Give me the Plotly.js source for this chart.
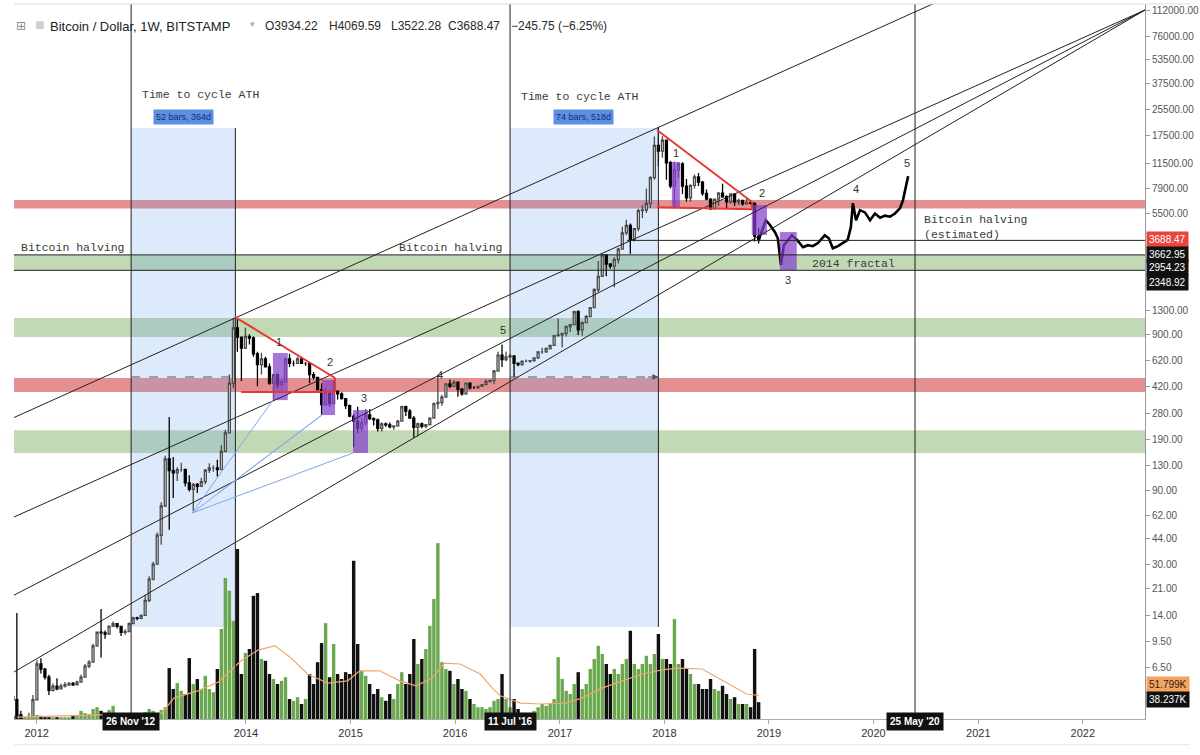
<!DOCTYPE html>
<html><head><meta charset="utf-8">
<script src="https://cdn.plot.ly/plotly-3.0.1.min.js"></script>
<style>body{margin:0;background:#fff}#chart{width:1200px;height:755px}</style>
</head><body><div id="chart"></div>
<script>
// ================= DATA =================
const barStart = '2011-10-10';      // first two-week bar
const barStepDays = 14;
const firstOpen = 4.2;
const closes = [
4.0,3.2,2.6,2.9,3.0,4.0,6.8,6.3,5.6,4.6,
4.9,4.7,4.9,5.0,5.1,5.0,5.2,5.6,6.6,7.0,
8.9,10.9,10.8,10.6,11.9,12.4,11.9,10.9,11.0,12.4,
13.5,13.4,14.0,17.5,24,30,46,71,143,120,
116,122,122,100,91,98,95,102,121,125,
125,122,160,210,440,1000,870,740,880,860,
680,580,630,560,440,500,430,450,630,590,
590,630,590,590,500,480,400,320,385,325,
390,375,350,315,270,250,225,245,275,260,
255,225,240,237,230,233,250,310,290,262,
228,240,232,238,262,325,330,357,435,420,
447,402,375,440,410,410,420,430,451,457,
527,667,625,650,660,590,580,610,610,615,
640,700,700,735,770,890,900,920,1020,1050,
1270,970,1080,1180,1350,1760,2150,2950,2580,2500,
2750,3220,4100,4580,3700,4360,5700,5750,6350,9300,
15000,13800,16200,11600,8200,10400,11400,8200,6900,8300,
9400,8700,7350,6750,5850,6750,7400,7000,6500,7300,
6500,6630,6300,6400,6350,3900,3688.47];
const highs = [
4.4,14.5,3.4,3.1,3.3,4.3,7.2,7.4,6.4,5.8,
5.1,5.5,5.1,5.2,5.2,5.2,5.3,5.8,6.8,7.2,
9.2,11.0,15.4,11.2,12.1,12.8,12.4,11.9,11.4,12.6,
13.7,13.7,14.2,19,25,31,48,75,150,266,
147,126,135,124,112,100,100,108,123,134,
130,141,175,220,500,1163,1150,880,1000,910,
880,700,690,650,590,500,510,455,640,680,
615,650,630,600,590,520,480,440,410,390,
460,390,385,350,320,280,310,265,300,300,
265,260,245,245,245,235,255,315,315,300,
270,245,245,240,265,330,500,370,440,465,
460,450,410,445,445,420,425,432,465,465,
535,700,780,705,680,660,600,615,625,620,
645,710,745,750,775,900,1150,920,1030,1060,
1290,1300,1100,1210,1360,1800,2700,3000,2980,2600,
2850,3280,4480,4980,4700,4400,5850,6180,7900,9500,
17100,19666,17200,16300,11900,11800,11700,11700,9100,8400,
9750,9950,8850,7800,6850,6800,7500,8500,7150,7350,
7400,6800,6700,6900,6580,6450,4400];
const lows = [
3.4,2.9,2.3,2.0,2.8,3.0,4.0,5.9,5.4,4.3,
4.5,4.6,4.7,4.8,4.9,4.9,5.0,5.2,5.6,6.4,
7.0,8.8,7.5,9.9,10.6,11.8,11.5,10.3,10.5,10.9,
12.3,13.0,13.2,14,17,23.5,30,40,71,50,
80,103,118,95,88,66,86,94,98,116,
118,110,121,158,210,410,700,455,730,780,
650,420,500,555,430,340,410,420,445,560,
565,590,585,570,440,465,395,275,315,310,
320,345,345,300,265,170,210,215,235,255,
235,215,215,230,225,220,230,250,270,260,
195,200,225,225,235,260,300,315,355,410,
420,360,365,370,400,405,405,415,430,445,
435,525,560,610,640,480,565,570,600,595,
605,630,680,690,725,770,880,750,880,940,
1040,900,890,1070,1170,1340,1700,2150,2150,2400,
1830,2600,3220,3950,3000,3600,4200,5100,5500,5900,
9000,11000,12500,9000,7900,6000,9300,7300,6500,6500,
7900,8200,7100,6650,5750,5800,6100,6900,5900,6300,
6100,6200,6150,6300,6250,3600,3500];
// weekly volume (thousand BTC) read for each bar
const volumesK = [
7,9,7,4,4,7, 9,7,4,4,4, 4,4,4,4,7,9, 18,13,11,22, 26,18,13,20,29,
11,9,9,11,13,11,11, 15,22,18,13,20,26, 112,
66,79,62,55,134,77,88,66,95,66,59,
110,198,310,282,216,374,
99,145,154,271,277,132,128,
99,88,77,84,92,44,40,48,33,44,
99,77,125,167,211,92,165,99,88,103,99,
348,165,106,95,77,55,66,48,40,55,44,
77,103,77,99,176,121,132,154,205,264,387,
125,110,106,77,88,66,62,44,33,26,26,22,26,40,44,
99,44,26,44,22,13,11,13,18,26,33,29,33,44,
136,88,62,55,77,103,66,77,110,132,161,143,121,99,110,
99,121,132,194,121,110,121,139,121,143,187,132,132,121,220,
121,132,110,99,77,77,66,66,88,66,62,73,55,44,48,33,33,33,26,154,37];
// volume moving average (thousand BTC)
const maDates = ['2011-10-25','2012-07-31','2012-12-19','2013-03-13','2013-04-24','2013-07-17','2013-09-25','2013-12-15','2014-02-13','2014-04-13','2014-06-08','2014-08-04','2014-10-13','2014-12-22','2015-02-02','2015-04-13','2015-06-22','2015-08-18','2015-10-13','2015-11-24','2016-01-19','2016-03-29','2016-05-10','2016-06-07','2016-08-16','2016-10-29','2017-01-21','2017-03-19','2017-05-28','2017-08-06','2017-10-15','2017-12-24','2018-02-18','2018-05-13','2018-07-23','2018-10-15','2018-11-26'];
const maValuesK = [4,9,9,13,46,62,81,128,152,161,134,99,79,84,106,106,84,73,90,123,121,99,68,51,35,33,35,46,68,84,99,108,112,110,84,55,51.8];
// projected "2014 fractal" path
const fractalDates = ['2018-11-26','2018-12-21','2019-01-04','2019-01-22','2019-02-01','2019-02-12','2019-02-22','2019-03-08','2019-03-22','2019-04-09','2019-04-30','2019-05-17','2019-06-03','2019-06-21','2019-07-15','2019-07-29','2019-08-12','2019-08-30','2019-09-16','2019-10-03','2019-10-14','2019-10-21','2019-11-01','2019-11-15','2019-12-02','2019-12-20','2020-01-06','2020-01-24','2020-02-10','2020-02-28','2020-03-16','2020-04-03','2020-04-13','2020-04-24','2020-05-01'];
const fractalPrices = [3688,4940,4620,4140,3780,2535,3410,3690,3950,3690,3310,3410,3360,3520,3950,3780,3260,3360,3520,3690,4460,6370,4940,5740,5550,4940,5460,5130,5290,5210,5460,5920,6660,8320,9510];

const yTickVals = [112000,76000,53500,37500,25500,17500,11500,7900,5500,1300,900,620,420,280,190,130,90,62,44,30,21,14,9.5,6.5];
const xTickDates = ['2012-01-01','2014-01-01','2015-01-01','2016-01-01','2017-01-01','2018-01-01','2019-01-01','2020-01-01','2021-01-01','2022-01-01'];
const xTickLabels = ['2012','2014','2015','2016','2017','2018','2019','2020','2021','2022'];

// drawing-tool levels / objects (data coordinates)
const redBands = [[5878,6668],[386,475]];
const greenBands = [[2348.92,2954.23],[872,1157],[156,219]];
const cycleZones = [['2012-11-26','2013-11-25','52 bars, 364d'],['2016-07-11','2017-12-11','74 bars, 518d']];
const zoneLow = 11.78, zoneHigh = 19420, axisLow = 3.006;
const halvingDates = ['2012-11-26','2016-07-11','2020-05-25'];
const halvingLabels = ["26 Nov '12","11 Jul '16","25 May '20"];
const trendLines = [
  [['2011-10-14',264],['2022-08-06',506700]],
  [['2011-10-14',60.3],['2022-08-06',112000]],
  [['2011-10-14',18.9],['2022-08-06',112000]],
  [['2011-10-14',6.04],['2022-08-06',112000]]
];
const redLines = [
  [['2013-11-24',1174],['2014-11-08',475]],
  [['2013-12-15',386],['2014-11-08',386]],
  [['2014-11-08',475],['2014-11-08',386]],
  [['2017-12-06',18850],['2018-11-03',6474]],
  [['2017-12-06',6000],['2018-11-03',5810]],
  [['2018-11-03',6474],['2018-11-03',5810]]
];
const purpleBoxes = [
  ['2014-04-05','2014-05-27',342,688],
  ['2014-09-23','2014-11-08',274,461],
  ['2015-01-10','2015-03-03',156,295],
  ['2018-01-27','2018-02-24',6012,11720],
  ['2018-11-02','2018-12-25',3967,6190],
  ['2019-02-08','2019-04-08',2359,4146]
];
const fanLines = [
  [['2013-06-27',64],['2014-04-05',342]],
  [['2013-06-27',64],['2014-09-23',274]],
  [['2013-06-27',64],['2015-01-10',156]],
  [['2013-09-26',86],['2014-09-23',274]]
];
const dashedLevel = 482;
const levelLines = [[3662.95,'2017-08-23'],[2954.23,'2011-10-14'],[2348.92,'2011-10-14']];
const waveLabels = [
  ['1','2014-04-26',810],['2','2014-10-21',602],['3','2015-02-16',353],['4','2015-11-09',496],['5','2016-06-16',968],
  ['1','2018-02-10',13400],['2','2018-12-07',7400],['3','2019-03-08',2033],['4','2019-11-01',7850],['5','2020-04-27',11550]
];
const lastPrice = 3688.47;
const axisPriceLabels = [3662.95,2954.23,2348.92];
const volMA_label = '51.799K', lastVol_label = '38.237K';

// ================= BUILD =================
const LG = Math.log10;
function addDays(s,n){const d=new Date(s+'T00:00:00Z');d.setUTCDate(d.getUTCDate()+n);return d.toISOString().slice(0,10);}
const dates = closes.map((_,i)=>addDays(barStart,i*barStepDays));
const opens = closes.map((c,i)=> i===0?firstOpen:closes[i-1]);
const volColors = closes.map((c,i)=> c>=opens[i] ? '#6aa84f' : '#111111');

const traces = [
 {type:'bar', x:dates, y:volumesK, yaxis:'y2', marker:{color:volColors, line:{width:0}}, hoverinfo:'skip'},
 {type:'scatter', mode:'lines', x:maDates, y:maValuesK, yaxis:'y2', line:{color:'#f2a66b', width:1.2}, hoverinfo:'skip'},
 {type:'candlestick', x:dates, open:opens, high:highs, low:lows, close:closes,
  increasing:{line:{color:'#4a4a4a', width:1.3}, fillcolor:'#f4f4f4'},
  decreasing:{line:{color:'#000000', width:1.3}, fillcolor:'#000000'},
  whiskerwidth:0, hoverinfo:'skip'},
 {type:'scatter', mode:'lines', x:fractalDates, y:fractalPrices, line:{color:'#000', width:2.6}, hoverinfo:'skip'}
];

// shapes on the log axis take raw data values
const shapes = [];
cycleZones.forEach(z=>shapes.push({type:'rect', xref:'x', yref:'y', x0:z[0], x1:z[1], y0:zoneLow, y1:zoneHigh, fillcolor:'rgba(100,160,235,0.22)', line:{width:0}, layer:'below'}));
redBands.forEach(b=>shapes.push({type:'rect', xref:'paper', yref:'y', x0:0, x1:1, y0:b[0], y1:b[1], fillcolor:'rgba(210,70,70,0.6)', line:{width:0}, layer:'below'}));
greenBands.forEach(b=>shapes.push({type:'rect', xref:'paper', yref:'y', x0:0, x1:1, y0:b[0], y1:b[1], fillcolor:'rgba(120,170,90,0.45)', line:{width:0}, layer:'below'}));
purpleBoxes.forEach(b=>shapes.push({type:'rect', xref:'x', yref:'y', x0:b[0], x1:b[1], y0:b[2], y1:b[3], fillcolor:'rgba(135,65,205,0.72)', line:{width:0}, layer:'above'}));
levelLines.forEach(l=>shapes.push({type:'line', xref:'x', yref:'y', x0:l[1], x1:'2022-08-06', y0:l[0], y1:l[0], line:{color:'#222', width:1}}));
halvingDates.forEach(d=>shapes.push({type:'line', xref:'x', yref:'paper', x0:d, x1:d, y0:0, y1:1, line:{color:'#222', width:1}}));
shapes.push({type:'line', xref:'x', yref:'y', x0:cycleZones[0][1], x1:cycleZones[0][1], y0:axisLow, y1:zoneHigh, line:{color:'#222', width:1}});
shapes.push({type:'line', xref:'x', yref:'y', x0:cycleZones[1][1], x1:cycleZones[1][1], y0:zoneLow, y1:zoneHigh, line:{color:'#222', width:1}});
trendLines.forEach(t=>shapes.push({type:'line', xref:'x', yref:'y', x0:t[0][0], y0:t[0][1], x1:t[1][0], y1:t[1][1], line:{color:'#222', width:1}}));
fanLines.forEach(t=>shapes.push({type:'line', xref:'x', yref:'y', x0:t[0][0], y0:t[0][1], x1:t[1][0], y1:t[1][1], line:{color:'#7fa8e6', width:1}}));
redLines.forEach(t=>shapes.push({type:'line', xref:'x', yref:'y', x0:t[0][0], y0:t[0][1], x1:t[1][0], y1:t[1][1], line:{color:'#e53935', width:2}}));
cycleZones.forEach(z=>shapes.push({type:'line', xref:'x', yref:'y', x0:z[0], x1:z[1], y0:dashedLevel, y1:dashedLevel, line:{color:'#555', width:1.2, dash:'dash'}}));
shapes.push({type:'line', xref:'paper', yref:'paper', x0:0, x1:1.04, y0:1, y1:1, line:{color:'#ddd', width:1}});
shapes.push({type:'line', xref:'paper', yref:'paper', x0:0, x1:1.04, y0:-0.036, y1:-0.036, line:{color:'#e6e6e6', width:1}});

const px = v=>(v-14)/1131, py = v=>(719-v)/715;
const mono = {family:'Liberation Mono, Courier New, monospace', size:11.5, color:'#3a3a3a'};
const ann = [];
ann.push({xref:'paper', yref:'paper', x:px(14), y:py(17), xanchor:'left', showarrow:false, text:'⊞', font:{family:'DejaVu Sans', size:12, color:'#8a8a8a'}});
ann.push({xref:'paper', yref:'paper', x:px(33), y:py(17), xanchor:'left', showarrow:false, text:'■', font:{family:'DejaVu Sans', size:10, color:'#d0d0d0'}});
ann.push({xref:'paper', yref:'paper', x:px(48), y:py(17), xanchor:'left', showarrow:false, text:'Bitcoin / Dollar, 1W, BITSTAMP', font:{family:'Liberation Sans, Arial', size:13, color:'#222'}});
ann.push({xref:'paper', yref:'paper', x:px(248), y:py(17), xanchor:'left', showarrow:false, text:'▾', font:{family:'DejaVu Sans', size:9, color:'#aaa'}});
const ohlcText = ['O3934.22','H4069.59','L3522.28','C3688.47','−245.75 (−6.25%)'];
const ohlcX = [263,327,389,446,509];
ohlcText.forEach((t,i)=>ann.push({xref:'paper', yref:'paper', x:px(ohlcX[i]), y:py(17), xanchor:'left', showarrow:false, text:t, font:{family:'Liberation Sans, Arial', size:12, color:'#2a2a2a'}}));
// annotations on the log axis take log10 values
const ttcX = ['2012-12-27','2016-08-11'], ttcY=[32170,31230];
const midX = ['2013-05-27','2017-03-26'];
cycleZones.forEach((z,i)=>{
  ann.push({xref:'x', yref:'y', x:ttcX[i], y:LG(ttcY[i]), xanchor:'left', showarrow:false, text:'Time to cycle ATH', font:mono});
  ann.push({xref:'x', yref:'y', x:midX[i], y:LG(22860), showarrow:false, text:z[2], bgcolor:'#5e8fe6', borderpad:2, font:{family:'Liberation Sans, Arial', size:9, color:'#14306a'}});
});
ann.push({xref:'x', yref:'y', x:'2012-11-12', y:LG(3319), xanchor:'right', showarrow:false, text:'Bitcoin halving', font:mono});
ann.push({xref:'x', yref:'y', x:'2016-06-23', y:LG(3319), xanchor:'right', showarrow:false, text:'Bitcoin halving', font:mono});
ann.push({xref:'x', yref:'y', x:'2020-06-18', y:LG(4498), xanchor:'left', align:'left', showarrow:false, text:'Bitcoin halving<br>(estimated)', font:mono});
ann.push({xref:'x', yref:'y', x:'2019-10-23', y:LG(2617), showarrow:false, text:'2014 fractal', font:mono});
waveLabels.forEach(w=>ann.push({xref:'x', yref:'y', x:w[1], y:LG(w[2]), showarrow:false, text:w[0], font:{family:'Liberation Sans, Arial', size:11, color:'#333'}}));
ann.push({xref:'x', yref:'y', x:cycleZones[1][1], y:LG(dashedLevel), ax:-12, ay:0, showarrow:true, arrowhead:2, arrowsize:1, arrowwidth:1.2, arrowcolor:'#555', text:''});
ann.push({xref:'paper', yref:'y', x:1, y:LG(lastPrice), xanchor:'left', xshift:1, showarrow:false, text:lastPrice.toFixed(2), bgcolor:'#e8453c', borderpad:2, font:{family:'Liberation Sans, Arial', size:10, color:'#fff'}});
const lblShift = [-14,-13,-12];
axisPriceLabels.forEach((v,i)=>ann.push({xref:'paper', yref:'y', x:1, y:LG(v), xanchor:'left', xshift:1, yshift:lblShift[i], showarrow:false, text:v.toFixed(2), bgcolor:'#111', borderpad:2, font:{family:'Liberation Sans, Arial', size:10, color:'#fff'}}));
ann.push({xref:'paper', yref:'paper', x:1, y:py(693), xanchor:'left', xshift:1, showarrow:false, text:volMA_label, bgcolor:'#f6a35e', borderpad:2, font:{family:'Liberation Sans, Arial', size:10, color:'#222'}});
ann.push({xref:'paper', yref:'paper', x:1, y:py(708), xanchor:'left', xshift:1, showarrow:false, text:lastVol_label, bgcolor:'#111', borderpad:2, font:{family:'Liberation Sans, Arial', size:10, color:'#fff'}});
halvingDates.forEach((d,i)=>ann.push({xref:'x', yref:'paper', x:d, y:py(731), showarrow:false, text:'<b>'+halvingLabels[i]+'</b>', bgcolor:'#111', borderpad:3, font:{family:'Liberation Sans, Arial', size:10, color:'#fff'}}));

const layout = {
  width:1200, height:755, margin:{l:14, r:55, t:4, b:36},
  paper_bgcolor:'#fff', plot_bgcolor:'#fff', showlegend:false, bargap:0.15,
  xaxis:{type:'date', range:['2011-10-14','2022-08-06'], rangeslider:{visible:false}, showgrid:false, zeroline:false,
    tickmode:'array', tickvals:xTickDates, ticktext:xTickLabels, ticks:'outside', ticklen:4, tickcolor:'#aaa',
    tickfont:{family:'Liberation Sans, Arial', size:11, color:'#333'}, showline:true, linecolor:'#aaa', linewidth:1},
  yaxis:{type:'log', side:'right', range:[0.478,5.088], tickmode:'array', tickvals:yTickVals, ticktext:yTickVals.map(v=>v.toFixed(2)),
    ticks:'outside', ticklen:4, tickcolor:'#999', tickfont:{family:'Liberation Sans, Arial', size:10, color:'#555'},
    showgrid:false, zeroline:false, showline:true, linecolor:'#999', linewidth:1},
  yaxis2:{overlaying:'y', range:[0,1573], visible:false, showgrid:false, zeroline:false},
  shapes:shapes, annotations:ann
};
Plotly.newPlot('chart', traces, layout, {staticPlot:true, displayModeBar:false});
</script></body></html>
